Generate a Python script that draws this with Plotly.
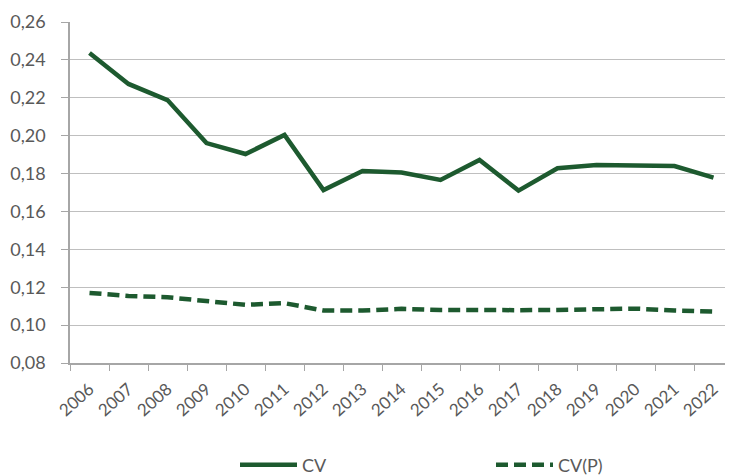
import plotly.graph_objects as go

years = [str(y) for y in range(2006, 2023)]
cv = [0.2436, 0.2273, 0.2188, 0.1961, 0.1903, 0.2004, 0.1713, 0.1814, 0.1805,
      0.1766, 0.1872, 0.1710, 0.1828, 0.1845, 0.1842, 0.1840, 0.1778]
cv_p = [0.1170, 0.1154, 0.1147, 0.1128, 0.1107, 0.1116, 0.1077, 0.1077, 0.1086,
        0.1080, 0.1077, 0.1079, 0.1080, 0.1082, 0.1087, 0.1077, 0.1071]
y_ticks = [0.08, 0.10, 0.12, 0.14, 0.16, 0.18, 0.20, 0.22, 0.24, 0.26]
y_labels = [f"{v:.2f}".replace(".", ",") for v in y_ticks]

green = "#1d5a2f"
font_family = "Lato, Open Sans, sans-serif"
text_col = "#595959"

fig = go.Figure()
fig.add_trace(go.Scatter(x=years, y=cv, name="CV", mode="lines",
                         line=dict(color=green, width=4.5), legend="legend"))
fig.add_trace(go.Scatter(x=years, y=cv_p, name="CV(P)", mode="lines",
                         line=dict(color=green, width=4.5, dash="12px,6px"),
                         legend="legend2"))

# page body has an 8px margin: figure origin sits at (8, 8) in the window
off = 8
plot_l, plot_r, plot_t, plot_b = 70, 733, 22, 363
plot_w = plot_r - plot_l
plot_h = plot_b - plot_t
fig_w, fig_h = 733 - off, 475 - off

def lx(px):
    return (px - plot_l) / plot_w

leg_y = (plot_b - 465) / plot_h

fig.update_layout(
    width=fig_w, height=fig_h,
    margin=dict(l=plot_l - off, r=fig_w - (plot_r - off), t=plot_t - off,
                b=fig_h - (plot_b - off), autoexpand=False),
    paper_bgcolor="white", plot_bgcolor="white",
    font=dict(family=font_family, color=text_col, size=16),
    showlegend=True,
    legend=dict(orientation="h", x=lx(235), xanchor="left", y=leg_y, yanchor="middle",
                itemwidth=57,
                font=dict(size=18, color=text_col), bgcolor="rgba(0,0,0,0)"),
    legend2=dict(orientation="h", x=lx(491), xanchor="left", y=leg_y, yanchor="middle",
                 itemwidth=57,
                 font=dict(size=18, color=text_col), bgcolor="rgba(0,0,0,0)"),
    xaxis=dict(type="category", tickangle=-42, showgrid=False, automargin=False,
               showline=True, linecolor="#a6a6a6", linewidth=1.5,
               ticks="outside", tickson="boundaries", ticklen=6, tickcolor="#a6a6a6",
               ticklabelstandoff=8,
               tickfont=dict(size=17, color=text_col), range=[-0.5, 16.5]),
    yaxis=dict(range=[0.08, 0.26], tickvals=y_ticks, ticktext=y_labels,
               automargin=False, ticklabelstandoff=12,
               showgrid=True, gridcolor="#bfbfbf", gridwidth=1.3,
               showline=True, linecolor="#a6a6a6", linewidth=1.5,
               ticks="outside", ticklen=7, tickcolor="#a6a6a6",
               tickfont=dict(size=18, color=text_col), zeroline=False),
)

fig.write_html("out.html")
